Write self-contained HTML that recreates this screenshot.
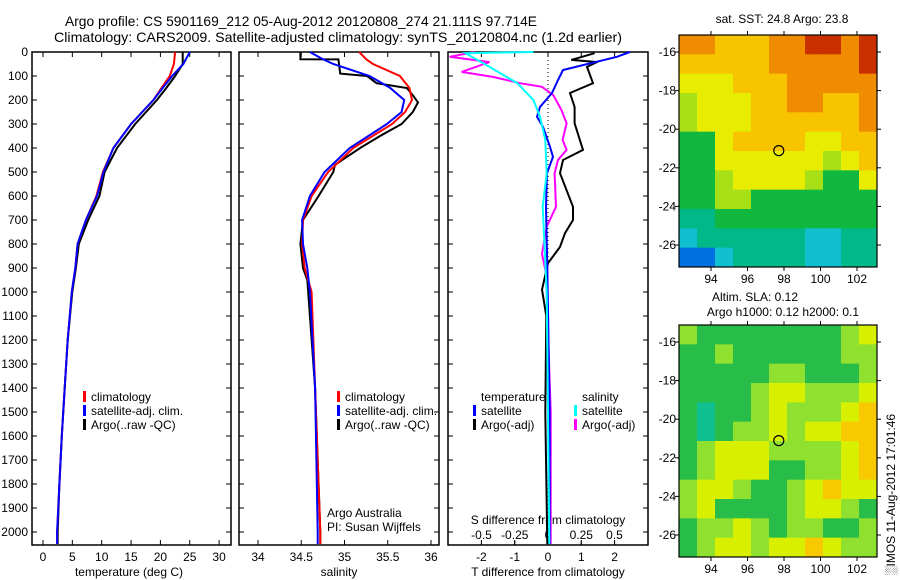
<!DOCTYPE html>
<html><head><meta charset="utf-8"><style>
body{margin:0;background:#fff;}
svg{display:block;font-family:"Liberation Sans",sans-serif;}
</style></head><body>
<svg id="fig" width="900" height="580" viewBox="0 0 900 580" xmlns="http://www.w3.org/2000/svg">
<rect width="900" height="580" fill="#fff"/>
<text x="65" y="26" font-size="14" textLength="472" lengthAdjust="spacingAndGlyphs">Argo profile: CS 5901169_212 05-Aug-2012 20120808_274 21.111S 97.714E</text>
<text x="54" y="42" font-size="14" textLength="568" lengthAdjust="spacingAndGlyphs">Climatology: CARS2009. Satellite-adjusted climatology: synTS_20120804.nc (1.2d earlier)</text>
<g id="g"></g>
</svg>
<script>
// ---------- data ----------
const tDepth = [0,50,100,150,200,300,400,500,600,700,800,900,1000,1200,1400,1600,1800,2000,2050];
const tClim  = [22.5,22.3,21.6,20.2,18.8,15.0,12.0,10.2,9.1,7.3,5.9,5.5,4.9,4.2,3.7,3.2,2.8,2.4,2.4];
const tSat   = [25.0,23.9,22.0,20.4,18.8,15.0,12.0,10.3,9.2,7.3,5.9,5.5,4.9,4.2,3.7,3.2,2.8,2.4,2.4];
const tArgo  = [23.8,23.8,22.5,21.0,19.4,15.7,12.6,10.5,9.6,7.7,6.1,5.6,5.0,4.2,3.7,3.2,2.8,2.5,2.5];

const sDepth = [0,30,50,100,150,200,250,300,400,500,600,700,800,900,1000,1400,2000,2050];
const sClim  = [35.17,35.25,35.33,35.64,35.75,35.78,35.70,35.55,35.10,34.81,34.62,34.52,34.51,34.54,34.62,34.66,34.72,34.72];
const sSat   = [34.60,34.75,34.87,35.29,35.53,35.69,35.66,35.49,35.06,34.77,34.60,34.51,34.52,34.57,34.60,34.66,34.69,34.69];
const sArgoD = [0,30,31,90,100,130,150,180,210,250,300,350,400,470,500,600,700,800,900,950,1000,1400,2000,2050];
const sArgo  = [34.49,34.49,34.93,34.95,35.26,35.37,35.72,35.79,35.85,35.79,35.66,35.41,35.18,34.89,34.87,34.70,34.52,34.49,34.52,34.57,34.58,34.66,34.72,34.72];

const dTDepth = [5,33,42,62,130,171,229,297,408,450,505,645,700,755,812,880,990,1100,1500,2050];
const dTArgo  = [1.4,0.7,1.47,1.17,1.35,0.66,0.8,0.8,1.05,0.45,0.36,0.75,0.75,0.51,0.36,0.0,-0.18,-0.05,-0.08,-0.02];
const dTSatD  = [0,20,75,117,171,229,270,312,395,437,505,645,900,1500,2050];
const dTSat   = [2.46,2.07,0.45,0.3,0.12,-0.24,-0.33,-0.15,0.06,0.15,-0.03,-0.06,-0.02,0.05,0.05];
const dSArgoD = [0,20,42,83,104,130,145,180,241,297,366,408,450,505,645,728,840,922,1500,2050];
const dSArgo  = [-0.55,-0.74,-0.44,-0.65,-0.41,-0.21,-0.045,0.04,0.1,0.14,0.11,0.14,0.075,0.05,0.06,-0.01,-0.045,-0.015,0.02,0.02];
const dSSatD  = [0,5,62,88,130,200,270,366,505,645,1000,1500,2050];
const dSSat   = [-0.11,-0.62,-0.44,-0.36,-0.23,-0.11,-0.06,-0.02,-0.01,-0.04,-0.01,0.0,0.01];

const depthTicks = [0,100,200,300,400,500,600,700,800,900,1000,1100,1200,1300,1400,1500,1600,1700,1800,1900,2000];
const tTicks = [0,5,10,15,20,25,30];
const sTicks = [34,34.5,35,35.5,36];
const dTTicks = [-2,-1,0,1,2];
const dSTicks = [-0.5,-0.25,0,0.25,0.5];
const lonTicks = [94,96,98,100,102];
const latTicks = [-16,-18,-20,-22,-24,-26];

// map grids: rows from north (-15.1) to south (-27.2), 1-degree columns from 92.25E
const sstGrid = ["88777889989","77777888889","66677788888","56667788778","56667777778","44677776677","44666666567","44566665446","44554444444","33444444444","23333332233","11233332233"];
const slaGrid = ["54444444456","44544444455","44444554445","44445665556","43445655567","43455656677","45666555567","45666445567","56654456766","56444456654","45565455445","45665667655"];
const profLon = [97.714];
const profLat = [-21.111];

// ---------- helpers ----------
const NS="http://www.w3.org/2000/svg", G=document.getElementById('g');
function mk(t,a,p){const e=document.createElementNS(NS,t);for(const k in a)e.setAttribute(k,a[k]);(p||G).appendChild(e);return e;}
function txt(x,y,s,fs,anchor,p){const e=mk('text',{x:x,y:y,'font-size':fs||12,'text-anchor':anchor||'start'},p);e.textContent=s;return e;}
const yD = d => 52 + d*0.24;
const xT = v => 43 + v*5.87;
const xS = v => 258 + (v-34)*86.5;
const xDT = v => 548 + v*33.3;
const xDS = v => 548 + v*133;

function frame(x0,x1,name){
  const r=mk('rect',{x:x0,y:52,width:x1-x0,height:493,fill:'none',stroke:'#000','stroke-width':1.5});
  
  
  depthTicks.forEach(d=>{
    mk('line',{x1:x0,x2:x0+5,y1:yD(d),y2:yD(d),stroke:'#000'});
    mk('line',{x1:x1-5,x2:x1,y1:yD(d),y2:yD(d),stroke:'#000'});
  });
}
function line(xs,ds,fx,color,name,w){
  const pts=xs.map((v,i)=>fx(v).toFixed(1)+','+yD(ds[i]).toFixed(1)).join(' ');
  const e=mk('polyline',{points:pts,fill:'none',stroke:color,'stroke-width':w||2});
  
  
}
function legend(x,y,color,label,name){
  mk('rect',{x:x,y:y-10,width:3,height:11,fill:color});
  const t=txt(x+8,y,label,12);
  
  
}

// ---------- panel 1: temperature ----------
frame(32,231,'temperature-plot-frame');
depthTicks.forEach(d=>{const t=txt(28,yD(d)+4,String(d),12,'end');
  
  });
tTicks.forEach(v=>{mk('line',{x1:xT(v),x2:xT(v),y1:545,y2:540,stroke:'#000'});mk('line',{x1:xT(v),x2:xT(v),y1:52,y2:57,stroke:'#000'});
  const t=txt(xT(v),561,String(v),12,'middle');
  
  });
{const t=txt(129,576,'temperature (deg C)',12,'middle');

}
line(tArgo,tDepth,xT,'#000','temperature-argo-line');
line(tClim,tDepth,xT,'#f00','temperature-climatology-line');
line(tSat,tDepth,xT,'#00f','temperature-satellite-line');
legend(83,401,'#f00','climatology','legend-climatology');
legend(83,415,'#00f','satellite-adj. clim.','legend-satellite-adj');
legend(83,429,'#000','Argo(..raw -QC)','legend-argo');

// ---------- panel 2: salinity ----------
frame(239,439,'salinity-plot-frame');
sTicks.forEach(v=>{mk('line',{x1:xS(v),x2:xS(v),y1:545,y2:540,stroke:'#000'});mk('line',{x1:xS(v),x2:xS(v),y1:52,y2:57,stroke:'#000'});
  const t=txt(xS(v),561,String(v),12,'middle');
  
  });
{const t=txt(339,576,'salinity',12,'middle');

}
line(sArgo,sArgoD,xS,'#000','salinity-argo-line');
line(sClim,sDepth,xS,'#f00','salinity-climatology-line');
line(sSat,sDepth,xS,'#00f','salinity-satellite-line');
legend(337,401,'#f00','climatology','legend-climatology-2');
legend(337,415,'#00f','satellite-adj. clim.','legend-satellite-adj-2');
legend(337,429,'#000','Argo(..raw -QC)','legend-argo-2');
{const t=txt(327,517,'Argo Australia',12);
const u=txt(327,531,'PI: Susan Wijffels',12);}

// ---------- panel 3: differences ----------
frame(448,648,'difference-plot-frame');
mk('line',{x1:548,x2:548,y1:52,y2:545,stroke:'#000','stroke-dasharray':'1,3'});
dTTicks.forEach(v=>{mk('line',{x1:xDT(v),x2:xDT(v),y1:545,y2:540,stroke:'#000'});mk('line',{x1:xDT(v),x2:xDT(v),y1:52,y2:57,stroke:'#000'});
  const t=txt(xDT(v),561,String(v),12,'middle');
  
  });
dSTicks.forEach(v=>{mk('line',{x1:xDS(v),x2:xDS(v),y1:545,y2:541,stroke:'#000'});
  const t=txt(xDS(v),539,String(v),12,'middle');
  
  });
{const t=txt(548,524,'S difference from climatology',12,'middle');
const u=txt(548,576,'T difference from climatology',12,'middle');}
line(dTArgo,dTDepth,xDT,'#000','tdiff-argo-line');
line(dSArgo,dSArgoD,xDS,'#f0f','sdiff-argo-line');
line(dTSat,dTSatD,xDT,'#00f','tdiff-satellite-line');
line(dSSat,dSSatD,xDS,'#0ff','sdiff-satellite-line');
{const t=txt(481,401,'temperature',12);
const u=txt(582,401,'salinity',12);}
legend(473,415,'#00f','satellite','legend-t-satellite');
legend(473,429,'#000','Argo(-adj)','legend-t-argo');
legend(574,415,'#0ff','satellite','legend-s-satellite');
legend(574,429,'#f0f','Argo(-adj)','legend-s-argo');

// ---------- maps ----------
const cmapSST=['#0030c0','#0070e0','#10c0d0','#00b888','#10b840','#a8e018','#e8ec00','#f8c400','#f08c00','#c83000'];
const cmapSLA=['#0030c0','#0070e0','#10c0d0','#10c090','#28bc48','#90e030','#d8f000','#f8c800','#f09000','#c03000'];
function map(grid,cmap,top,lat16y,name){
  const x0=679,x1=877,bottom=top+232;
  const lx = lon => 711+(lon-94)*18.25;
  const ly = lat => lat16y+(-16-lat)*19.3;
  const cw=(x1-x0)/grid[0].length, ch=(bottom-top)/grid.length;
  grid.forEach((row,r)=>{[...row].forEach((c,k)=>{
    const e=mk('rect',{x:x0+k*cw,y:top+r*ch,width:cw+0.5,height:ch+0.5,fill:cmap[+c]});
    
    
  });});
  const f=mk('rect',{x:x0,y:top,width:x1-x0,height:bottom-top,fill:'none',stroke:'#000','stroke-width':1.2});
  
  
  lonTicks.forEach(v=>{mk('line',{x1:lx(v),x2:lx(v),y1:top-4,y2:top,stroke:'#000'});mk('line',{x1:lx(v),x2:lx(v),y1:bottom,y2:bottom+4,stroke:'#000'});
    const t=txt(lx(v),bottom+16,String(v),12,'middle');
    
    });
  latTicks.forEach(v=>{mk('line',{x1:x0-4,x2:x0,y1:ly(v),y2:ly(v),stroke:'#000'});mk('line',{x1:x1,x2:x1+4,y1:ly(v),y2:ly(v),stroke:'#000'});
    const t=txt(676,ly(v)+4,String(v),12,'end');
    
    });
  const c=mk('circle',{cx:lx(profLon[0]),cy:ly(profLat[0]),r:5,fill:'none',stroke:'#000','stroke-width':1.2});
  
  
}
map(sstGrid,cmapSST,35,52,'sst-map');
map(slaGrid,cmapSLA,325,342,'sla-map');
{const t=txt(782,23,'sat. SST: 24.8 Argo: 23.8',12,'middle');
const u=txt(755,301,'Altim. SLA: 0.12',12,'middle');
const w=txt(783,316,'Argo h1000: 0.12 h2000: 0.1',12,'middle');
const z=txt(0,0,'\u2591IMOS 11-Aug-2012 17:01:46',12,'start');z.setAttribute('transform','translate(895,575) rotate(-90)');
}
</script>
</body></html>
